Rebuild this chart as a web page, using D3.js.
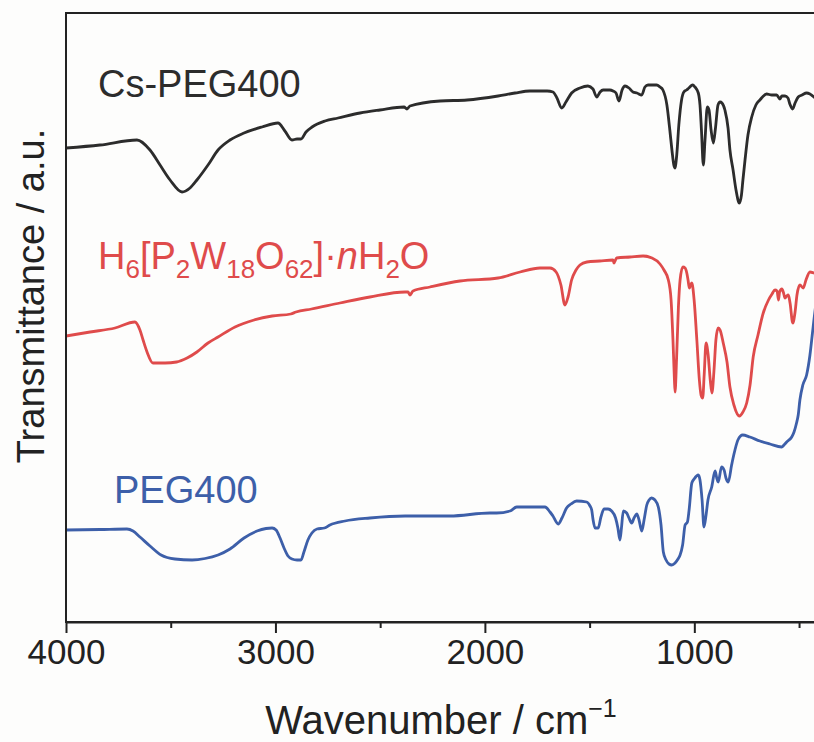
<!DOCTYPE html>
<html>
<head>
<meta charset="utf-8">
<script src="https://cdn.jsdelivr.net/npm/d3@7"></script>
<style>
  html, body { margin: 0; padding: 0; background: #fdfdfc; }
  svg { display: block; font-family: Arial, "Liberation Sans", Helvetica, sans-serif; }
</style>
</head>
<body>
<svg id="chart" width="814" height="742"></svg>
<script>
// FTIR spectra: [wavenumber (cm-1), transmittance (a.u., stacked)]
const csPeg400 = [
  [4000,474],[3838,477],[3661,482],[3599,472],[3551,457],[3503,442],[3446,430],[3408,434],
  [3375,442],[3322,457],[3274,472],[3217,482],[3150,489],[3064,495],[2988,499],[2955,491],
  [2921,482],[2897,483],[2878,483],[2854,490],[2825,495],[2763,501],[2701,504],[2596,509],
  [2501,512],[2386,515],[2372,513],[2358,516],[2214,521],[2085,522],[1937,526],[1856,529],
  [1785,531],[1703,531],[1675,530],[1656,524],[1633,514],[1613,520],[1586,529],[1546,534],
  [1508,536],[1484,533],[1466,525],[1450,530],[1436,532],[1403,532],[1388,531],[1374,529],
  [1360,521],[1345,532],[1331,536],[1312,534],[1293,530],[1274,529],[1251,527],[1236,535],
  [1221,537],[1180,537],[1164,535],[1150,532],[1131,517],[1117,492],[1107,472],[1098,457],
  [1093,454],[1084,467],[1074,497],[1061,522],[1050,530],[1037,532],[1026,534],[1008,537],
  [997,535],[981,529],[973,517],[966,492],[957,457],[949,482],[938,515],[930,512],[920,492],
  [909,479],[899,494],[887,517],[877,520],[868,519],[854,512],[839,494],[830,472],[815,452],
  [801,432],[785,419],[775,427],[768,442],[758,462],[744,487],[726,505],[706,517],[687,522],
  [655,528],[630,527],[607,527],[591,523],[582,526],[567,526],[553,524],[544,518],[531,513],
  [519,519],[504,525],[486,527],[464,529],[448,528],[429,525],[400,522]
];

const hpw = [
  [4000,286],[3885,290],[3766,294],[3671,300],[3647,292],[3632,282],[3613,270],[3585,259],
  [3527,259],[3472,260],[3422,264],[3375,270],[3322,279],[3274,285],[3193,295],[3102,302],
  [3016,306],[2927,308],[2902,310],[2828,313],[2692,319],[2549,325],[2381,330],[2367,330],
  [2358,327],[2343,331],[2262,335],[2119,341],[1937,344],[1832,350],[1737,354],[1689,354],
  [1660,350],[1637,337],[1618,317],[1603,325],[1586,342],[1565,352],[1546,357],[1513,360],
  [1451,361],[1388,362],[1384,359],[1371,364],[1307,365],[1245,366],[1202,364],[1164,358],
  [1145,352],[1124,342],[1111,322],[1102,282],[1095,242],[1092,230],[1085,262],[1076,315],
  [1068,342],[1055,355],[1044,354],[1036,349],[1030,342],[1024,334],[1012,339],[1001,322],
  [988,282],[976,242],[968,227],[960,224],[953,247],[944,279],[934,267],[924,242],[916,229],
  [906,252],[897,282],[886,294],[877,292],[862,279],[844,260],[830,235],[811,217],[785,206],
  [768,210],[750,219],[734,237],[719,265],[696,287],[671,309],[646,322],[629,328],[615,332],
  [605,331],[598,322],[593,330],[582,333],[574,329],[567,324],[559,326],[551,327],[543,319],
  [530,299],[519,310],[510,327],[496,337],[480,334],[467,342],[448,350],[429,349],[400,347]
];

const peg400 = [
  [4000,92],[3838,92.5],[3709,93],[3680,91],[3647,85],[3599,76],[3546,67],[3480,63],
  [3398,62],[3336,63.5],[3274,67],[3217,73],[3150,84],[3088,91],[3045,93.5],[3016,94],
  [2997,92],[2978,84],[2959,74],[2940,66],[2921,63],[2897,62],[2878,62],[2864,70],
  [2845,82],[2826,89],[2802,93],[2766,94],[2740,97],[2668,101],[2549,104],[2381,106],
  [2167,106],[1976,109],[1944,109],[1880,111],[1848,115],[1785,115],[1713,115],[1689,110],
  [1675,106],[1650,98],[1632,104],[1610,114],[1589,118],[1562,121],[1514,120],[1498,116],
  [1490,112],[1484,103],[1474,94],[1459,94],[1446,105],[1431,113],[1412,113],[1395,111],
  [1376,104],[1365,94],[1355,82],[1348,94],[1339,111],[1323,109],[1312,104],[1299,99],
  [1288,104],[1275,108],[1264,102],[1251,91],[1240,102],[1227,117],[1216,122],[1204,124],
  [1188,122],[1172,115],[1159,97],[1148,70],[1135,62],[1121,58],[1108,57],[1092,59],
  [1078,63],[1068,67],[1056,77],[1044,97],[1033,100],[1025,112],[1012,139],[1001,143],
  [981,147],[973,142],[963,122],[954,95],[944,107],[935,122],[917,135],[901,151],[893,144],
  [886,140],[870,155],[858,152],[849,144],[838,140],[822,157],[815,164],[806,172],[792,182],
  [769,187],[735,185],[687,181],[639,178],[583,175],[572,177],[559,180],[535,185],[524,190],
  [512,199],[504,207],[496,222],[482,237],[464,247],[448,267],[436,289],[429,302],[400,352]
];

const majorTicks = [4000, 3000, 2000, 1000];
const minorTicks = [3500, 2500, 1500, 500];

const seriesList = [
  { name: "Cs-PEG400", data: csPeg400, color: "#2c2c2c" },
  { name: "H6[P2W18O62]·nH2O", data: hpw, color: "#df4b4b" },
  { name: "PEG400", data: peg400, color: "#3d5fa9" }
];

const svg = d3.select("#chart");
const margin = { left: 66, right: 820, top: 13, bottom: 622 };

const x = d3.scaleLinear().domain([4000, 400]).range([margin.left, margin.right]);
const y = d3.scaleLinear().domain([0, 609]).range([margin.bottom, margin.top]);

const axisColor = "#222";

// clip traces to the plotting frame
svg.append("defs").append("clipPath").attr("id", "plotClip")
  .append("rect")
  .attr("x", margin.left).attr("y", margin.top)
  .attr("width", margin.right - margin.left).attr("height", margin.bottom - margin.top);

const line = d3.line()
  .x(d => x(d[0]))
  .y(d => y(d[1]))
  .curve(d3.curveMonotoneX);

const traces = svg.append("g").attr("clip-path", "url(#plotClip)");
seriesList.forEach(s => {
  traces.append("path")
    .datum(s.data)
    .attr("fill", "none")
    .attr("stroke", s.color)
    .attr("stroke-width", 2.8)
    .attr("stroke-linejoin", "round")
    .attr("d", line);
});

// frame: left, top, right lines
svg.append("rect")
  .attr("x", margin.left).attr("y", margin.top)
  .attr("width", margin.right - margin.left).attr("height", margin.bottom - margin.top)
  .attr("fill", "none").attr("stroke", axisColor).attr("stroke-width", 2);

// bottom axis with major ticks and labels
const xAxis = d3.axisBottom(x)
  .tickValues(majorTicks)
  .tickSize(11)
  .tickSizeOuter(0)
  .tickPadding(6)
  .tickFormat(d3.format("d"));

const gx = svg.append("g")
  .attr("transform", `translate(0,${margin.bottom})`)
  .call(xAxis);
gx.select(".domain").attr("stroke", axisColor).attr("stroke-width", 2);
gx.selectAll(".tick line").attr("stroke", axisColor).attr("stroke-width", 2);
gx.selectAll(".tick text")
  .attr("fill", "#222")
  .attr("font-size", 35)
  .attr("font-family", "Arial, 'Liberation Sans', sans-serif");

// minor ticks
const gMinor = svg.append("g")
  .attr("transform", `translate(0,${margin.bottom})`)
  .call(d3.axisBottom(x).tickValues(minorTicks).tickSize(6).tickSizeOuter(0).tickFormat(""));
gMinor.select(".domain").remove();
gMinor.selectAll(".tick line").attr("stroke", axisColor).attr("stroke-width", 2);

// axis titles
const xTitle = svg.append("text")
  .attr("x", 441).attr("y", 734)
  .attr("text-anchor", "middle")
  .attr("font-size", 40)
  .attr("fill", "#222");
xTitle.append("tspan").text("Wavenumber / cm");
xTitle.append("tspan").attr("dy", -17).attr("font-size", 25).text("\u22121");

svg.append("text")
  .attr("transform", "translate(44,296) rotate(-90)")
  .attr("text-anchor", "middle")
  .attr("font-size", 38)
  .attr("fill", "#222")
  .text("Transmittance / a.u.");

// series labels
svg.append("text")
  .attr("x", 98).attr("y", 97)
  .attr("font-size", 38)
  .attr("fill", seriesList[0].color)
  .text("Cs-PEG400");

const hLabel = svg.append("text")
  .attr("x", 98).attr("y", 269)
  .attr("font-size", 38)
  .attr("fill", seriesList[1].color);
const parts = [
  ["H", 0, false], ["6", 1, false], ["[P", 0, false], ["2", 1, false], ["W", 0, false],
  ["18", 1, false], ["O", 0, false], ["62", 1, false], ["]\u00b7", 0, false], ["n", 0, true],
  ["H", 0, false], ["2", 1, false], ["O", 0, false]
];
let prevSub = 0;
parts.forEach(([t, sub, ital]) => {
  const ts = hLabel.append("tspan").text(t);
  const shift = (sub - prevSub) * 9;
  if (shift !== 0) ts.attr("dy", shift);
  if (sub) ts.attr("font-size", 26);
  if (ital) ts.attr("font-style", "italic");
  prevSub = sub;
});

svg.append("text")
  .attr("x", 114).attr("y", 503)
  .attr("font-size", 38)
  .attr("fill", seriesList[2].color)
  .text("PEG400");
</script>
</body>
</html>
